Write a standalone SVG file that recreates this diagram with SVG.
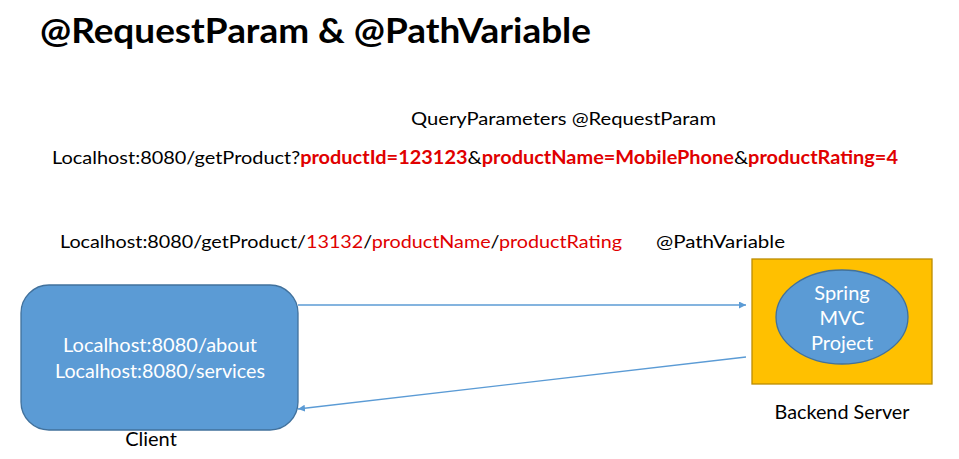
<svg xmlns="http://www.w3.org/2000/svg" width="959" height="459" viewBox="0 0 959 459">
<style>
text{font-family:Lato,"Open Sans","Liberation Sans",sans-serif;}
.t{font-size:18px;fill:#000;}
.l{font-size:20px;fill:#000;text-anchor:middle;}
.r{fill:#e00000;}
.b{font-weight:bold;}
.w{fill:#fff;font-size:20px;text-anchor:middle;}
.cn{stroke:#5b9bd5;stroke-width:1.3;fill:none;}
</style>
<defs>
<marker id="ah" viewBox="0 0 10 10" refX="10" refY="5" markerWidth="7" markerHeight="7" markerUnits="userSpaceOnUse" orient="auto">
<path d="M0,0 L10,5 L0,10 z" fill="#5b9bd5"/>
</marker>
</defs>
<rect width="959" height="459" fill="#fff"/>
<text x="40" y="43" font-size="34" font-weight="bold" textLength="551" lengthAdjust="spacingAndGlyphs">@RequestParam &amp; @PathVariable</text>
<text class="t" x="411" y="125" textLength="305" lengthAdjust="spacingAndGlyphs">QueryParameters @RequestParam</text>
<text class="t" x="52" y="164" textLength="846" lengthAdjust="spacingAndGlyphs">Localhost:8080/getProduct?<tspan class="r b">productId=123123</tspan>&amp;<tspan class="r b">productName=MobilePhone</tspan>&amp;<tspan class="r b">productRating=4</tspan></text>
<text class="t" x="60" y="248" textLength="562" lengthAdjust="spacingAndGlyphs">Localhost:8080/getProduct/<tspan class="r">13132</tspan>/<tspan class="r">productName</tspan>/<tspan class="r">productRating</tspan></text>
<text class="t" x="656" y="248" textLength="129" lengthAdjust="spacingAndGlyphs">@PathVariable</text>
<g id="client">
<rect x="21" y="285" width="277" height="145" rx="28" ry="28" fill="#5b9bd5" stroke="#41719c" stroke-width="1.3"/>
<text class="w" x="160" y="352" textLength="194" lengthAdjust="spacingAndGlyphs">Localhost:8080/about</text>
<text class="w" x="160" y="378" textLength="210" lengthAdjust="spacingAndGlyphs">Localhost:8080/services</text>
<text class="l" x="151" y="446">Client</text>
</g>
<g id="server">
<rect x="752" y="259" width="180" height="125" fill="#ffc000" stroke="#bc8c00" stroke-width="1.3"/>
<ellipse cx="842" cy="317" rx="66" ry="47" fill="#5b9bd5" stroke="#41719c" stroke-width="1.3"/>
<text class="w" x="842" y="300">Spring</text>
<text class="w" x="842" y="325">MVC</text>
<text class="w" x="842" y="350">Project</text>
<text class="l" x="842" y="419" textLength="135" lengthAdjust="spacingAndGlyphs">Backend Server</text>
</g>
<g id="connectors">
<line class="cn" x1="298" y1="305" x2="746" y2="305" marker-end="url(#ah)"/>
<line class="cn" x1="746" y1="357" x2="298" y2="409" marker-end="url(#ah)"/>
</g>
</svg>
